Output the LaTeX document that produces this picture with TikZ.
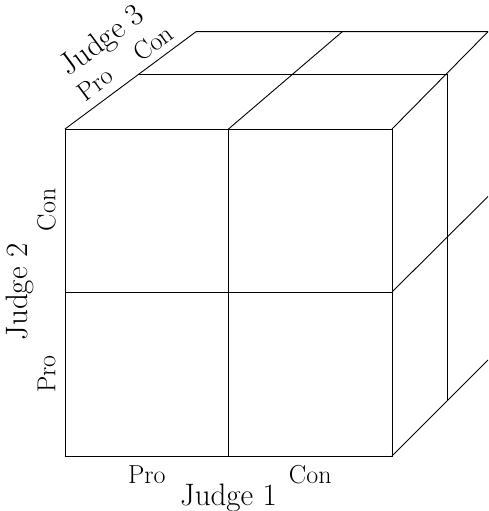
\documentclass[tikz,border=0pt]{standalone}
\begin{document}
\begin{tikzpicture}[x=1pt,y=-1pt,
  edge/.style={line width=0.9pt,black},
  lab/.style={inner sep=0pt,font=\fontsize{26}{28}\selectfont},
  judge/.style={inner sep=0pt,font=\fontsize{31}{33}\selectfont}]
\useasboundingbox (0,0) rectangle (488,511);
\begin{scope}
\clip (0,0) rectangle (488,511);
% front face corners
\coordinate (ftl) at (65,129);
\coordinate (ftm) at (228.5,129);
\coordinate (ftr) at (392,129);
\coordinate (fml) at (65,292);
\coordinate (fmr) at (392,292);
\coordinate (fbl) at (65,456);
\coordinate (fbm) at (228.5,456);
\coordinate (fbr) at (392,456);
% middle depth
\coordinate (mtl) at (139,74);
\coordinate (mtr) at (447.7,74);
\coordinate (mbr) at (447.7,401);
% back
\coordinate (btl) at (196,31.7);
\coordinate (btm) at (342.3,31.7);
\coordinate (btr) at (488,31.7);
\coordinate (bmr) at (488,196.5);
\coordinate (bbr) at (488,360);
% front face
\draw[edge] (ftl) rectangle (fbr);
\draw[edge] (ftm) -- (fbm);
\draw[edge] (fml) -- (fmr);
% top face
\draw[edge] (ftl) -- (btl) -- (btr);
\draw[edge] (ftm) -- (btm);
\draw[edge] (ftr) -- (btr);
\draw[edge] (mtl) -- (mtr) -- (mbr);
% right face
\draw[edge] (fmr) -- (bmr);
\draw[edge] (fbr) -- (bbr);
\end{scope}
% labels
\node[lab] (p1) at (146.75,474.6) {Pro};
\node[lab] (c1) at (310.25,474.6) {Con};
\node[judge] (j1) at (228.5,497.5) {Judge 1};
\node[lab,rotate=90] (p2) at (46.5,374) {Pro};
\node[lab,rotate=90] (c2) at (46.5,210) {Con};
\node[judge,rotate=90] (j2) at (20,292) {Judge 2};
\node[lab,rotate=36.6] (p3) at (95,84) {Pro};
\node[lab,rotate=36.6] (c3) at (153,43) {Con};
\node[judge,rotate=36.6] (j3) at (103,42) {Judge 3};
\end{tikzpicture}
\end{document}
